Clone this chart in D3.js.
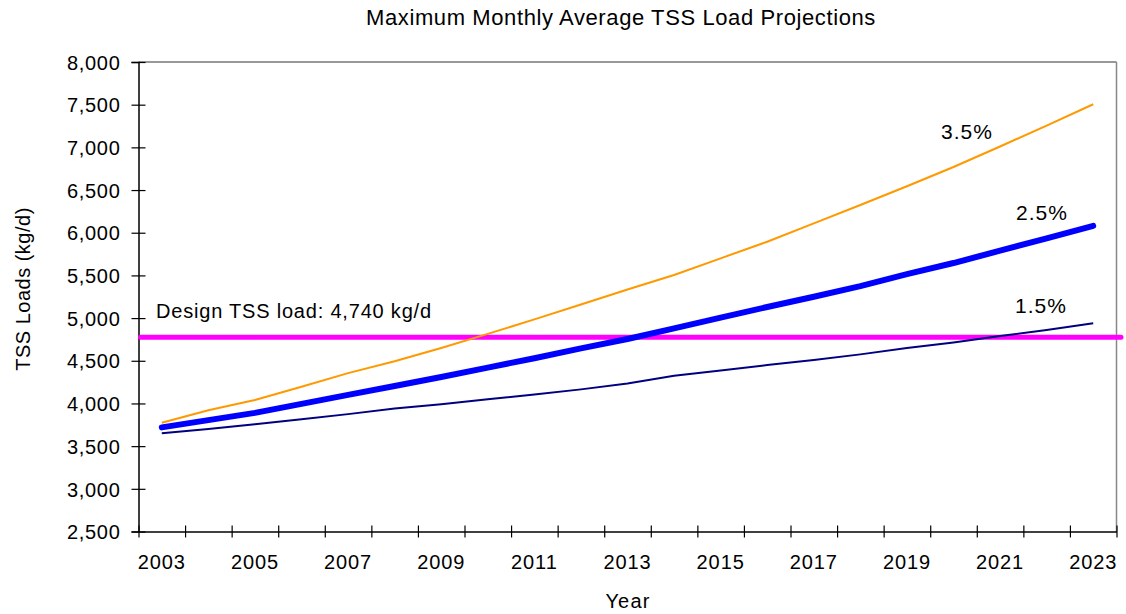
<!DOCTYPE html>
<html>
<head>
<meta charset="utf-8">
<script src="https://cdn.jsdelivr.net/npm/d3@7"></script>
<style>
  body { margin: 0; background: #fff; }
  svg { font-family: "Liberation Sans", Arial, sans-serif; }
</style>
</head>
<body>
<svg width="1126" height="614"></svg>
<script>
// years on the category axis
var years = d3.range(2003, 2024);
// load projections (kg/d)
var growth35 = [3775, 3920, 4040, 4195, 4355, 4495, 4650, 4815, 4985, 5160, 5335,
                5505, 5700, 5895, 6110, 6325, 6545, 6770, 7010, 7255, 7505];
var growth25 = [3720, 3805, 3890, 3995, 4100, 4205, 4310, 4420, 4530, 4645, 4755,
                4880, 5005, 5130, 5250, 5375, 5515, 5645, 5790, 5935, 6080];
var growth15 = [3650, 3700, 3755, 3815, 3875, 3940, 3990, 4050, 4105, 4165, 4235,
                4325, 4385, 4450, 4510, 4575, 4650, 4715, 4790, 4860, 4940];
var seriesNames = ["3.5%", "2.5%", "1.5%"];
var yTicks = [2500, 3000, 3500, 4000, 4500, 5000, 5500, 6000, 6500, 7000, 7500, 8000];
var designLoadLabel = "Design TSS load: 4,740 kg/d";
var designLineValue = 4775; // where the magenta line sits on the picture

var plotLeft = 138.5, plotRight = 1116.5, plotTop = 62, plotBottom = 531.5;

var svg = d3.select("svg");

var xScale = d3.scaleBand()
    .domain(years)
    .range([plotLeft, plotRight])
    .padding(0);

// boundaries of the year bands, for the tick marks
var xEdge = d3.scaleLinear()
    .domain([0, years.length])
    .range([plotLeft, plotRight]);

var yScale = d3.scaleLinear()
    .domain([2500, 8000])
    .range([plotBottom, plotTop]);

// frame: top dark, right grey
svg.append("line")
    .attr("x1", plotLeft).attr("x2", plotRight)
    .attr("y1", plotTop).attr("y2", plotTop)
    .attr("stroke", "#333").attr("stroke-width", 1.2);
svg.append("line")
    .attr("x1", plotRight).attr("x2", plotRight)
    .attr("y1", plotTop).attr("y2", plotBottom)
    .attr("stroke", "#888").attr("stroke-width", 1.5);

// y axis
var yAxis = d3.axisLeft(yScale)
    .tickValues(yTicks)
    .tickFormat(d3.format(","))
    .tickSizeOuter(0)
    .tickSize(7);
var gy = svg.append("g")
    .attr("transform", "translate(" + plotLeft + ",0)")
    .call(yAxis);
gy.select(".domain").attr("stroke", "#000").attr("stroke-width", 1.5);
gy.selectAll(".tick line").attr("x1", -7).attr("x2", 7).attr("stroke", "#000").attr("stroke-width", 1.2);
gy.selectAll(".tick text")
    .attr("x", -18)
    .attr("dy", "0.36em")
    .style("font-size", "20px")
    .style("letter-spacing", "0.7px")
    .style("font-family", "Liberation Sans, Arial, sans-serif")
    .attr("fill", "#000");

// x axis: labels every other year, centred on the band
var xAxis = d3.axisBottom(xScale)
    .tickFormat(function(d) { return (d - 2003) % 2 === 0 ? d : ""; })
    .tickSize(0)
    .tickSizeOuter(0);
var gx = svg.append("g")
    .attr("transform", "translate(0," + plotBottom + ")")
    .call(xAxis);
gx.select(".domain").remove();
gx.selectAll(".tick text")
    .attr("y", 23)
    .attr("dy", "0.71em")
    .style("font-size", "20px")
    .style("letter-spacing", "0.9px")
    .style("font-family", "Liberation Sans, Arial, sans-serif")
    .attr("fill", "#000");

// tick marks on band edges
var xTickAxis = d3.axisBottom(xEdge)
    .tickValues(d3.range(0, years.length + 1))
    .tickFormat("")
    .tickSize(6)
    .tickSizeOuter(0);
var gxt = svg.append("g")
    .attr("transform", "translate(0," + plotBottom + ")")
    .call(xTickAxis);
gxt.select(".domain").attr("stroke", "#000").attr("stroke-width", 1.5);
gxt.selectAll(".tick line").attr("y1", -6).attr("y2", 6).attr("stroke", "#000").attr("stroke-width", 1.2);

var line = d3.line()
    .x(function(d, i) { return xScale(years[i]) + xScale.bandwidth() / 2; })
    .y(function(d) { return yScale(d); });

// design load line
svg.append("line")
    .attr("x1", plotLeft + 2).attr("x2", 1121)
    .attr("y1", yScale(designLineValue)).attr("y2", yScale(designLineValue))
    .attr("stroke", "#ff00ff")
    .attr("stroke-width", 5)
    .attr("stroke-linecap", "round");

svg.append("path")
    .attr("d", line(growth15))
    .attr("fill", "none")
    .attr("stroke", "#000080")
    .attr("stroke-width", 2);

svg.append("path")
    .attr("d", line(growth35))
    .attr("fill", "none")
    .attr("stroke", "#ff9900")
    .attr("stroke-width", 2);

svg.append("path")
    .attr("d", line(growth25))
    .attr("fill", "none")
    .attr("stroke", "#0000ff")
    .attr("stroke-width", 6)
    .attr("stroke-linecap", "round")
    .attr("stroke-linejoin", "round");

// series labels
var labelPos = [[941, 139], [1016, 220], [1015, 313]];
svg.selectAll("text.series")
    .data(seriesNames)
    .enter()
    .append("text")
    .attr("class", "series")
    .attr("x", function(d, i) { return labelPos[i][0]; })
    .attr("y", function(d, i) { return labelPos[i][1]; })
    .style("font-size", "21px")
    .style("letter-spacing", "1px")
    .text(function(d) { return d; });

svg.append("text")
    .attr("x", 156)
    .attr("y", 318)
    .style("font-size", "20px")
    .style("letter-spacing", "0.8px")
    .text(designLoadLabel);

// titles
svg.append("text")
    .attr("x", 621)
    .attr("y", 25)
    .style("text-anchor", "middle")
    .style("font-size", "22px")
    .style("letter-spacing", "0.6px")
    .text("Maximum Monthly Average TSS Load Projections");

svg.append("text")
    .attr("x", 628)
    .attr("y", 608)
    .style("text-anchor", "middle")
    .style("font-size", "20px")
    .style("letter-spacing", "1.2px")
    .text("Year");

svg.append("text")
    .attr("transform", "rotate(-90)")
    .attr("x", -289)
    .attr("y", 30)
    .style("text-anchor", "middle")
    .style("font-size", "20px")
    .style("letter-spacing", "0.5px")
    .text("TSS Loads (kg/d)");
</script>
</body>
</html>
